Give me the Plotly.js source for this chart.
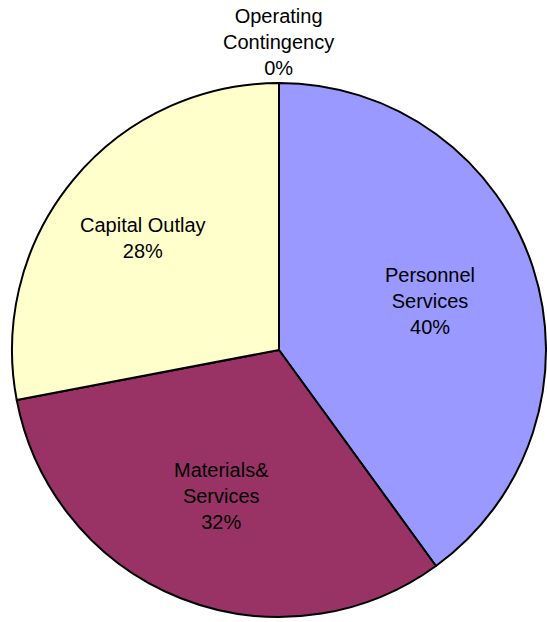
<!DOCTYPE html>
<html>
<head>
<meta charset="utf-8">
<script src="https://cdn.plot.ly/plotly-3.0.1.min.js"></script>
<style>html,body{margin:0;padding:0;background:#fff;overflow:hidden}</style>
</head>
<body>
<div id="chart" style="width:547px;height:622px"></div>
<script>
const categories = ["Personnel<br>Services", "Materials&<br>Services", "Capital Outlay", "Operating<br>Contingency"];
const shares = [40, 32, 28, 0];
const colors = ["#9999FF", "#993366", "#FFFFCC", "#FFFFFF"];

// radial placement of each label (fraction of pie radius) – layout only
const labelRadius = [0.595, 0.59, 0.66, 1.155];

const total = shares.reduce((a, b) => a + b, 0);
let cum = 0;
const annotations = shares.map((v, i) => {
  const mid = (cum + v / 2) / total * 2 * Math.PI;
  cum += v;
  const f = labelRadius[i];
  return {
    xref: "paper", yref: "paper",
    x: 0.5 + f * Math.sin(mid) / 2,
    y: 0.5 + f * Math.cos(mid) / 2,
    xanchor: "center", yanchor: "middle",
    text: categories[i] + "<br>" + v + "%",
    showarrow: false,
    align: "center",
    font: { family: "Liberation Sans, Arial, sans-serif", size: 20, color: "#000000" }
  };
});

Plotly.newPlot("chart", [{
  type: "pie",
  labels: categories,
  values: shares,
  textinfo: "none",
  sort: false,
  direction: "clockwise",
  rotation: 0,
  marker: { colors: colors, line: { color: "#000000", width: 2 } },
  hoverinfo: "none"
}], {
  width: 547, height: 622,
  margin: { l: 12, r: 1, t: 83, b: 5 },
  showlegend: false,
  paper_bgcolor: "#ffffff",
  annotations: annotations,
  font: { family: "Liberation Sans, Arial, sans-serif", size: 20, color: "#000" }
}, { displayModeBar: false, staticPlot: true });
</script>
</body>
</html>
